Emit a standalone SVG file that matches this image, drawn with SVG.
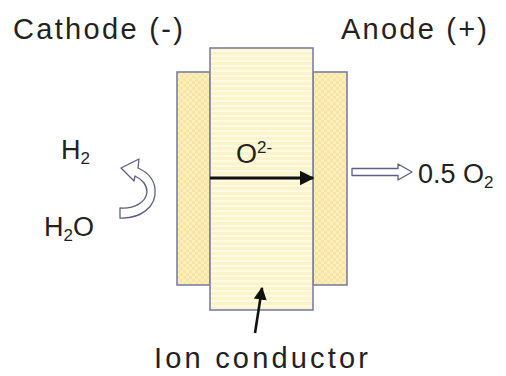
<svg xmlns="http://www.w3.org/2000/svg" width="506" height="376" viewBox="0 0 506 376">
<style>
text{font-family:"Liberation Sans",Arial,sans-serif;fill:#222}
.lbl{font-size:29px}
.mid{font-size:27px}
.sub{font-size:17px}
.box{stroke:#7c7fa6;stroke-width:1.6}
.hollow{fill:#fff;stroke:#5a5f86;stroke-width:1.3;stroke-linejoin:round}
</style>
<defs>
<pattern id="stripes" width="8" height="5" patternUnits="userSpaceOnUse">
<rect width="8" height="5" fill="#fdf3c8"/>
<rect width="8" height="2" fill="#fffae6"/>
</pattern>
<pattern id="checks" width="6" height="6" patternUnits="userSpaceOnUse">
<rect width="6" height="6" fill="#f8e6a0"/>
<rect width="3" height="3" fill="#fbefc2"/>
<rect x="3" y="3" width="3" height="3" fill="#fbefc2"/>
</pattern>
<marker id="ah" viewBox="0 0 10 10" refX="9" refY="5" markerWidth="5" markerHeight="5" orient="auto">
<path d="M0,0 L10,5 L0,10 z" fill="#111"/>
</marker>
</defs>
<text class="lbl" x="13" y="39" textLength="170" lengthAdjust="spacing">Cathode (-)</text>
<text class="lbl" x="341" y="39" textLength="146" lengthAdjust="spacing">Anode (+)</text>
<g id="cathode"><rect class="box" x="177" y="72" width="33" height="213" fill="url(#checks)"/></g>
<g id="anode"><rect class="box" x="313" y="72" width="34" height="213" fill="url(#checks)"/></g>
<g id="electrolyte"><rect class="box" x="210" y="48" width="103" height="262" fill="url(#stripes)"/></g>
<g id="ion-label">
<text class="mid" x="236" y="163" font-size="25">O<tspan class="sub" dy="-10">2-</tspan></text>
</g>
<g id="h2-label"><text class="mid" x="61" y="159">H<tspan class="sub" dy="5">2</tspan></text></g>
<g id="h2o-label"><text class="mid" x="44" y="236">H<tspan class="sub" dy="5">2</tspan><tspan dy="-5">O</tspan></text></g>
<g id="o2-label"><text class="mid" x="418" y="183">0.5 O<tspan class="sub" dy="5">2</tspan></text></g>
<g id="conductor-label"><text class="lbl" x="154" y="368" textLength="214" lengthAdjust="spacing">Ion conductor</text></g>
<g id="connectors">
<line x1="210" y1="178" x2="313" y2="178" stroke="#111" stroke-width="3" marker-end="url(#ah)"/>
<line x1="255" y1="333" x2="262" y2="288" stroke="#111" stroke-width="2.6" marker-end="url(#ah)"/>
<path class="hollow" d="M352,168.5 L398,168.5 L398,164 L412,172 L398,180 L398,175.5 L352,175.5 Z"/>
<path class="hollow" d="M120,218 C140,219 157,207 155,189 C154,179 147,172 138,168 L139,159 L121,168 L134,181 L135,176 C142,179 147,185 147,192 C146,202 135,209 120,208 Z"/>
</g>
</svg>
